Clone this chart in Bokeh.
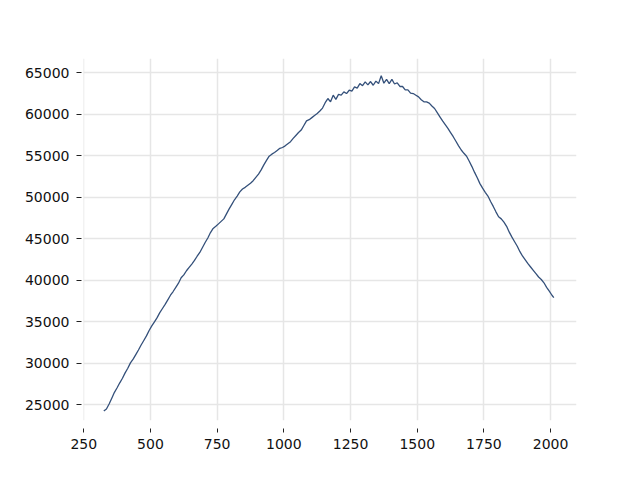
from bokeh.plotting import figure
from bokeh.models import Range1d, FixedTicker
from bokeh.embed import file_html
from bokeh.resources import INLINE

# Data (x step 10 starting at 325, plus the final point)
x_start = 325
x_step = 10
y_values = [
    24250, 24500, 25100, 25800, 26500, 27050, 27650, 28200, 28850, 29400,
    30050, 30500, 31050, 31600, 32200, 32750, 33300, 33950, 34500, 35000,
    35500, 36100, 36600, 37100, 37650, 38200, 38650, 39150, 39650, 40300,
    40650, 41150, 41550, 41950, 42400, 42900, 43350, 43950, 44550, 45100,
    45750, 46250, 46500, 46800, 47100, 47400, 48000, 48600, 49150, 49700,
    50150, 50650, 51000, 51200, 51450, 51700, 52000, 52400, 52800, 53300,
    53900, 54450, 54950, 55200, 55400, 55650, 55900, 56000, 56200, 56450,
    56700, 57100, 57450, 57800, 58100, 58650, 59200, 59350, 59600, 59850,
    60100, 60400, 60750, 61400, 61900, 61500, 62300, 61800, 62400, 62300,
    62700, 62500, 62900, 62800, 63300, 63150, 63700, 63450, 63900, 63550,
    63950, 63500, 64000, 63700, 64650, 63750, 64200, 63700, 64200, 63650,
    63800, 63350, 63350, 62950, 62950, 62550, 62500, 62300, 62100, 61750,
    61500, 61500, 61350, 61000, 60700, 60200, 59700, 59200, 58750, 58300,
    57800, 57300, 56750, 56200, 55700, 55300, 54950, 54350, 53700, 53000,
    52350, 51650, 51100, 50600, 50150, 49500, 48900, 48250, 47650, 47400,
    47000, 46500, 45800, 45200, 44650, 44100, 43450, 42900, 42450, 42000,
    41600, 41200, 40800, 40400, 40100, 39700, 39150, 38700, 38200,
]
x_last = 2012
y_last = 37900

x_ticks = [250, 500, 750, 1000, 1250, 1500, 1750, 2000]
y_ticks = [25000, 30000, 35000, 40000, 45000, 50000, 55000, 60000, 65000]

xs = [x_start + i * x_step for i in range(len(y_values))] + [x_last]
ys = y_values + [y_last]

p = figure(
    width=632, height=472,
    output_backend="svg", toolbar_location=None,
    x_range=Range1d(249, 2097), y_range=Range1d(23108, 66723),
    min_border_left=83, min_border_right=56,
    min_border_top=58, min_border_bottom=52,
)
p.outline_line_color = None
p.background_fill_color = "white"
p.border_fill_color = "white"

p.line(xs, ys, line_color="#34507a", line_width=1.3)

for ax in (p.xaxis, p.yaxis):
    ax.axis_line_color = None
    ax.major_tick_line_color = "#222222"
    ax.major_tick_line_width = 1
    ax.minor_tick_line_color = None
    ax.major_label_text_font = "DejaVu Sans"
    ax.major_label_text_font_size = "14px"
    ax.major_label_text_color = "#111111"

p.xaxis.ticker = FixedTicker(ticks=x_ticks)
p.yaxis.ticker = FixedTicker(ticks=y_ticks)
p.xaxis.major_tick_in = -8
p.xaxis.major_tick_out = 12
p.xaxis.major_label_standoff = 6
p.yaxis.major_tick_in = -2
p.yaxis.major_tick_out = 7
p.yaxis.major_label_standoff = 7

p.xgrid.ticker = FixedTicker(ticks=x_ticks)
p.ygrid.ticker = FixedTicker(ticks=y_ticks)
p.grid.grid_line_color = "#e6e6e6"
p.grid.grid_line_width = 1.5

open("out.html", "w").write(file_html(p, INLINE))
